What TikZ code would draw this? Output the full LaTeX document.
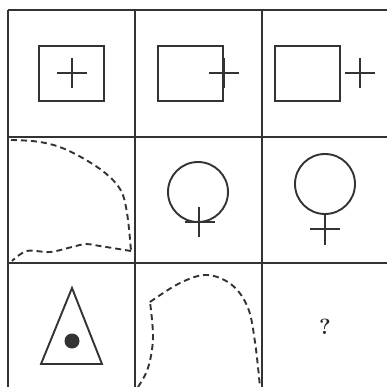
\documentclass[tikz,border=0pt]{standalone}
\begin{document}
\begin{tikzpicture}[x=1pt,y=-1pt,
  ink/.style={draw=black!80, line width=1.9pt},
  gridline/.style={draw=black!80, line width=2.2pt},
  dashcurve/.style={draw=black!80, line width=1.9pt, dash pattern=on 6pt off 4pt}]
\useasboundingbox (0,0) rectangle (387,387);
\fill[white] (0,0) rectangle (387,387);
% grid
\foreach \x in {8,135,262} \draw[gridline] (\x,10) -- (\x,387);
\foreach \y in {10,137,263} \draw[gridline] (8,\y) -- (387,\y);
% row 1
\draw[ink] (39,46) rectangle (104,101);
\draw[ink] (57,73) -- (87,73) (72,58) -- (72,88);
\draw[ink] (158,46) rectangle (223,101);
\draw[ink] (209,73) -- (239,73) (224,58) -- (224,88);
\draw[ink] (275,46) rectangle (340,101);
\draw[ink] (345,73) -- (375,73) (360,58) -- (360,88);
% row 2
\draw[dashcurve] plot[smooth, tension=0.6] coordinates {(11,140) (40,142) (67,150) (100,169) (120,189) (127,213) (131,251)};
\draw[dashcurve] plot[smooth, tension=0.6] coordinates {(131,251) (100,246) (86,244) (72,247) (50,252) (27,251) (12,261)};
\draw[ink] (198,192) circle (30);
\draw[ink] (185,222) -- (215,222) (199,207) -- (199,237);
\draw[ink] (325,184) circle (30);
\draw[ink] (325,214) -- (325,245) (310,229) -- (340,229);
% row 3
\draw[ink] (72,288) -- (41,364) -- (102,364) -- cycle;
\fill[black!80] (72,341) circle (7.5);
\draw[dashcurve] plot[smooth, tension=0.6] coordinates {(138,387) (148,368) (153,338) (150,302)};
\draw[dashcurve] plot[smooth, tension=0.6] coordinates {(150,302) (180,283) (207,275) (232,285) (248,308) (255,342) (260,387)};
\node[text=black!85, font=\fontsize{22}{24}\selectfont\bfseries] (q) at (325,327) {?};
\end{tikzpicture}
\end{document}
